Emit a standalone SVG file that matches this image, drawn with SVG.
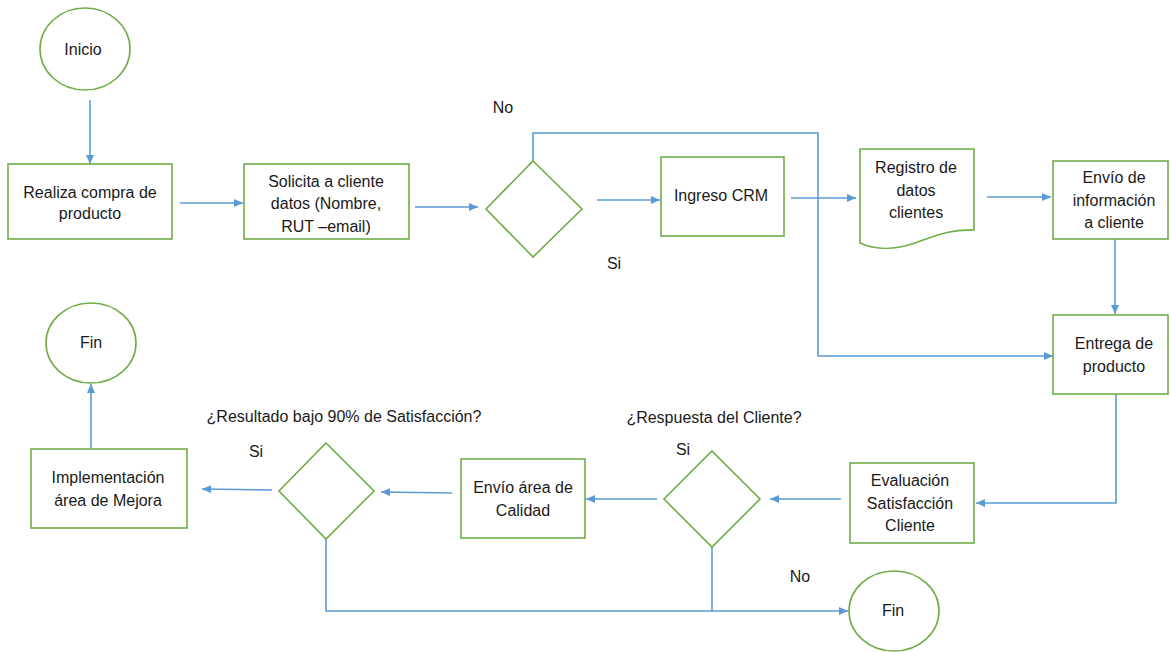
<svg xmlns="http://www.w3.org/2000/svg" width="1170" height="652" viewBox="0 0 1170 652">
<style>
.node{fill:#fff;stroke:#70AD47;stroke-width:1.6}
.conn{fill:none;stroke:#5B9BD5;stroke-width:1.6}
text{font-family:"Liberation Sans",Arial,sans-serif;font-size:16px;fill:#1a1a1a;text-anchor:middle}
</style>
<defs>
<marker id="ah" markerUnits="userSpaceOnUse" markerWidth="9" markerHeight="8" refX="9" refY="4" orient="auto">
<path d="M0,0 L9,4 L0,8 z" fill="#5B9BD5"/>
</marker>
</defs>
<rect width="1170" height="652" fill="#fff"/>
<g id="connectors">
<line class="conn" x1="90" y1="100" x2="90" y2="164" marker-end="url(#ah)"/>
<line class="conn" x1="180" y1="203" x2="243" y2="203" marker-end="url(#ah)"/>
<line class="conn" x1="415" y1="207" x2="478" y2="207" marker-end="url(#ah)"/>
<path class="conn" d="M533,161 V133 H818 V356 H1053" marker-end="url(#ah)"/>
<line class="conn" x1="597" y1="200" x2="660" y2="200" marker-end="url(#ah)"/>
<line class="conn" x1="791" y1="198" x2="856" y2="198" marker-end="url(#ah)"/>
<line class="conn" x1="987" y1="197" x2="1051" y2="197" marker-end="url(#ah)"/>
<line class="conn" x1="1115" y1="239" x2="1115" y2="314" marker-end="url(#ah)"/>
<path class="conn" d="M1116,394 V503 H976" marker-end="url(#ah)"/>
<line class="conn" x1="841" y1="499" x2="770" y2="499" marker-end="url(#ah)"/>
<line class="conn" x1="657" y1="499" x2="586" y2="499" marker-end="url(#ah)"/>
<line class="conn" x1="452" y1="493" x2="381" y2="492" marker-end="url(#ah)"/>
<line class="conn" x1="272" y1="490" x2="202" y2="489" marker-end="url(#ah)"/>
<line class="conn" x1="91" y1="448" x2="91" y2="384" marker-end="url(#ah)"/>
<path class="conn" d="M326,539 V611 H848" marker-end="url(#ah)"/>
<path class="conn" d="M712,547 V611"/>
</g>
<g id="inicio">
<ellipse class="node" cx="85" cy="49" rx="45" ry="41"/>
<text x="83" y="55">Inicio</text>
</g>
<g id="realiza">
<rect class="node" x="8" y="164" width="164" height="75"/>
<text x="90" y="198">Realiza compra de</text>
<text x="90" y="219">producto</text>
</g>
<g id="solicita">
<rect class="node" x="244" y="164" width="165" height="75"/>
<text x="326" y="187">Solicita a cliente</text>
<text x="326" y="209">datos (Nombre,</text>
<text x="326" y="232">RUT –email)</text>
</g>
<g id="decision1">
<polygon class="node" points="533,161 582,209 533,257 486,209"/>
<text x="503" y="113">No</text>
<text x="614" y="269">Si</text>
</g>
<g id="crm">
<rect class="node" x="661" y="157" width="123" height="79"/>
<text x="721" y="201">Ingreso CRM</text>
</g>
<g id="registro">
<path class="node" d="M860,149 H974 V230 C950,229 935,236 915,243 C895,250 875,250 860,243 Z"/>
<text x="916" y="173">Registro de</text>
<text x="916" y="196">datos</text>
<text x="916" y="218">clientes</text>
</g>
<g id="envio-info">
<rect class="node" x="1053" y="161" width="115" height="78"/>
<text x="1114" y="183">Envío de</text>
<text x="1114" y="206">información</text>
<text x="1114" y="228">a cliente</text>
</g>
<g id="entrega">
<rect class="node" x="1053" y="315" width="115" height="79"/>
<text x="1114" y="349">Entrega de</text>
<text x="1114" y="372">producto</text>
</g>
<g id="evaluacion">
<rect class="node" x="850" y="463" width="124" height="80"/>
<text x="910" y="486">Evaluación</text>
<text x="910" y="509">Satisfacción</text>
<text x="910" y="531">Cliente</text>
</g>
<g id="decision2">
<polygon class="node" points="712,451 760,499 712,547 664,499"/>
<text x="714" y="423">¿Respuesta del Cliente?</text>
<text x="683" y="455">Si</text>
</g>
<g id="calidad">
<rect class="node" x="461" y="459" width="124" height="79"/>
<text x="523" y="493">Envío área de</text>
<text x="523" y="516">Calidad</text>
</g>
<g id="decision3">
<polygon class="node" points="326,443 374,491 326,539 279,491"/>
<text x="344" y="422">¿Resultado bajo 90% de Satisfacción?</text>
<text x="256" y="457">Si</text>
</g>
<g id="mejora">
<rect class="node" x="31" y="449" width="156" height="79"/>
<text x="108" y="483">Implementación</text>
<text x="108" y="506">área de Mejora</text>
</g>
<g id="fin1">
<ellipse class="node" cx="91" cy="343" rx="45" ry="40"/>
<text x="91" y="348">Fin</text>
</g>
<g id="fin2">
<ellipse class="node" cx="894" cy="611" rx="45" ry="40"/>
<text x="800" y="582">No</text>
<text x="893" y="616">Fin</text>
</g>
</svg>
